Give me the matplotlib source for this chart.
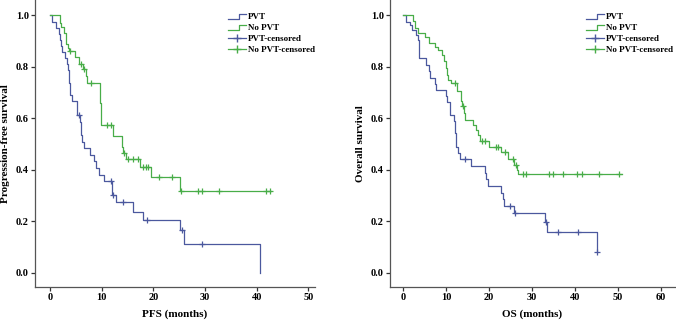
import matplotlib
matplotlib.use("Agg")
import matplotlib.pyplot as plt
from matplotlib.lines import Line2D
from matplotlib.legend_handler import HandlerBase

plt.rcParams["font.family"] = ["Liberation Serif", "DejaVu Serif"]
plt.rcParams["font.weight"] = "bold"

# colores de las curvas
c_pvt = "#4b589e"
c_nopvt = "#48ad48"

# PFS, grupo PVT: tiempos de evento y supervivencia despues de cada escalon
pfs_pvt_t = [0.4, 1.2, 1.7, 1.9, 2.1, 2.3, 2.8, 3.2, 3.5, 3.6, 3.7, 3.8, 3.9, 4.3, 5.3,
             5.8, 5.9, 6.0, 6.2, 6.5, 7.7, 8.4, 8.9, 9.4, 10.4, 11.9, 12.0, 12.8, 16.1,
             17.9, 25.1, 25.9, 40.6]
pfs_pvt_s = [0.976, 0.952, 0.929, 0.905, 0.881, 0.857, 0.833, 0.810, 0.786, 0.762, 0.738,
             0.714, 0.690, 0.667, 0.613, 0.587, 0.561, 0.535, 0.509, 0.484, 0.458, 0.432,
             0.406, 0.380, 0.354, 0.327, 0.300, 0.273, 0.237, 0.203, 0.165, 0.110, 0.0]
pfs_pvt_cens_t = [5.5, 11.7, 12.2, 14.2, 18.7, 25.6, 29.5]
pfs_pvt_cens_s = [0.613, 0.354, 0.300, 0.273, 0.203, 0.165, 0.110]

# PFS, grupo sin PVT
pfs_no_t = [1.9, 2.2, 2.6, 3.0, 3.4, 3.6, 4.8, 5.5, 6.4, 7.0, 7.1, 9.6, 9.7, 9.8, 9.9,
            12.2, 13.9, 14.2, 14.6, 17.4, 19.6, 25.1]
pfs_no_s = [0.970, 0.955, 0.930, 0.890, 0.873, 0.860, 0.840, 0.810, 0.790, 0.763, 0.737,
            0.700, 0.660, 0.620, 0.575, 0.530, 0.490, 0.464, 0.440, 0.410, 0.370, 0.317]
pfs_no_cens_t = [3.9, 6.0, 6.6, 7.9, 11.1, 11.8, 14.3, 15.1, 16.1, 17.0, 18.0, 18.5, 19.0,
                 21.1, 23.6, 25.3, 28.7, 29.4, 32.7, 41.8, 42.5]
pfs_no_cens_s = [0.860, 0.810, 0.790, 0.737, 0.575, 0.575, 0.464, 0.440, 0.440, 0.440,
                 0.410, 0.410, 0.410, 0.370, 0.370, 0.317, 0.317, 0.317, 0.317, 0.317, 0.317]
pfs_no_end = 42.7

# OS, grupo PVT
os_pvt_t = [0.6, 1.5, 2.0, 2.9, 3.4, 3.6, 3.7, 5.4, 6.0, 6.2, 7.5, 7.6, 10.0, 10.2, 10.8,
            10.9, 11.9, 12.0, 12.1, 12.2, 12.3, 12.8, 13.2, 15.9, 19.0, 19.4, 19.8, 22.9,
            23.2, 23.5, 25.8, 33.0, 33.6, 45.1]
os_pvt_s = [0.976, 0.963, 0.944, 0.924, 0.905, 0.870, 0.834, 0.808, 0.782, 0.756, 0.733,
            0.710, 0.688, 0.665, 0.640, 0.613, 0.590, 0.566, 0.541, 0.516, 0.490, 0.464,
            0.441, 0.415, 0.389, 0.363, 0.337, 0.310, 0.284, 0.259, 0.231, 0.195, 0.156,
            0.078]
os_pvt_cens_t = [14.4, 24.8, 26.1, 33.3, 36.1, 40.7, 45.3]
os_pvt_cens_s = [0.441, 0.259, 0.231, 0.195, 0.156, 0.156, 0.078]

# OS, grupo sin PVT
os_no_t = [2.2, 2.7, 3.4, 5.1, 6.1, 7.4, 8.2, 9.0, 9.6, 9.9, 10.1, 10.4, 11.2, 12.6, 13.4,
           13.8, 14.2, 14.3, 16.3, 16.9, 17.4, 17.9, 20.1, 22.9, 24.5, 25.9, 26.5, 26.8]
os_no_s = [0.977, 0.953, 0.930, 0.915, 0.892, 0.879, 0.866, 0.847, 0.821, 0.795, 0.770,
           0.750, 0.737, 0.705, 0.666, 0.646, 0.620, 0.594, 0.575, 0.556, 0.535, 0.513,
           0.490, 0.467, 0.443, 0.419, 0.400, 0.383]
os_no_cens_t = [12.1, 14.0, 18.3, 19.0, 21.6, 22.0, 23.8, 25.5, 26.3, 27.9, 28.7, 34.0,
                35.0, 37.2, 40.6, 41.8, 45.7, 50.3]
os_no_cens_s = [0.737, 0.646, 0.513, 0.513, 0.490, 0.490, 0.467, 0.443, 0.419, 0.383,
                0.383, 0.383, 0.383, 0.383, 0.383, 0.383, 0.383, 0.383]
os_no_end = 50.9

etiquetas = ["PVT", "No PVT", "PVT-censored", "No PVT-censored"]


class HandlerEscalon(HandlerBase):
    # dibuja el icono en forma de escalon como en SPSS
    def create_artists(self, legend, orig_handle, xdescent, ydescent, width, height,
                       fontsize, trans):
        x0 = -xdescent
        y0 = -ydescent
        xs = [x0, x0 + 0.6 * width, x0 + 0.6 * width, x0 + width]
        ys = [y0 + 0.1 * height, y0 + 0.1 * height, y0 + 0.85 * height, y0 + 0.85 * height]
        ln = Line2D(xs, ys, color=orig_handle.get_color(), lw=0.9)
        ln.set_transform(trans)
        return [ln]


def curva(ax, t, s, ct, cs, color, fin=None):
    xs = [0] + list(t)
    ys = [1.0] + list(s)
    if fin is not None:
        xs.append(fin)
        ys.append(ys[-1])
    else:
        xs.append(max(xs[-1], max(ct) if ct else xs[-1]))
        ys.append(ys[-1])
    ax.step(xs, ys, where="post", color=color, lw=0.9)
    ax.plot(ct, cs, ls="none", marker="+", ms=5, mew=0.9, color=color)


def ejes(ax, xmax, xticks, xlabel, ylabel):
    ax.set_xlim(-2.9, xmax)
    ax.set_ylim(-0.056, 1.06)
    ax.set_xticks(xticks)
    ax.set_yticks([0.0, 0.2, 0.4, 0.6, 0.8, 1.0])
    ax.set_yticklabels(["0.0", "0.2", "0.4", "0.6", "0.8", "1.0"])
    for lado in ["top", "right"]:
        ax.spines[lado].set_visible(False)
    for lado in ["left", "bottom"]:
        ax.spines[lado].set_color("#555555")
        ax.spines[lado].set_linewidth(0.9)
    ax.tick_params(direction="out", length=3, width=0.9, pad=1.5, labelsize=7.5,
                   color="#333333")
    ax.set_xlabel(xlabel, fontsize=8, fontweight="bold", labelpad=5)
    ax.set_ylabel(ylabel, fontsize=8, fontweight="bold", labelpad=4)

    handles = [Line2D([], [], color=c_pvt), Line2D([], [], color=c_nopvt),
               Line2D([], [], color=c_pvt, marker="+", ms=6, lw=0.9),
               Line2D([], [], color=c_nopvt, marker="+", ms=6, lw=0.9)]
    ax.legend(handles, etiquetas, loc="upper left", bbox_to_anchor=(0.69, 0.955),
              frameon=False, fontsize=6.5, handlelength=2.0, handletextpad=0.2,
              labelspacing=0.3, borderpad=0, borderaxespad=0,
              handler_map={handles[0]: HandlerEscalon(), handles[1]: HandlerEscalon()})


fig = plt.figure(figsize=(6.76, 3.22), dpi=100)
ax1 = fig.add_axes([0.052, 0.109, 0.414, 0.891])
ax2 = fig.add_axes([0.577, 0.109, 0.421, 0.891])

curva(ax1, pfs_pvt_t, pfs_pvt_s, pfs_pvt_cens_t, pfs_pvt_cens_s, c_pvt)
curva(ax1, pfs_no_t, pfs_no_s, pfs_no_cens_t, pfs_no_cens_s, c_nopvt, fin=pfs_no_end)
ejes(ax1, 51.3, [0, 10, 20, 30, 40, 50], "PFS (months)", "Progression-free survival")

curva(ax2, os_pvt_t, os_pvt_s, os_pvt_cens_t, os_pvt_cens_s, c_pvt)
curva(ax2, os_no_t, os_no_s, os_no_cens_t, os_no_cens_s, c_nopvt, fin=os_no_end)
ejes(ax2, 63.3, [0, 10, 20, 30, 40, 50, 60], "OS (months)", "Overall survival")
ax2.set_xlim(-3.1, 63.3)

fig.savefig("out.png", dpi=100)
